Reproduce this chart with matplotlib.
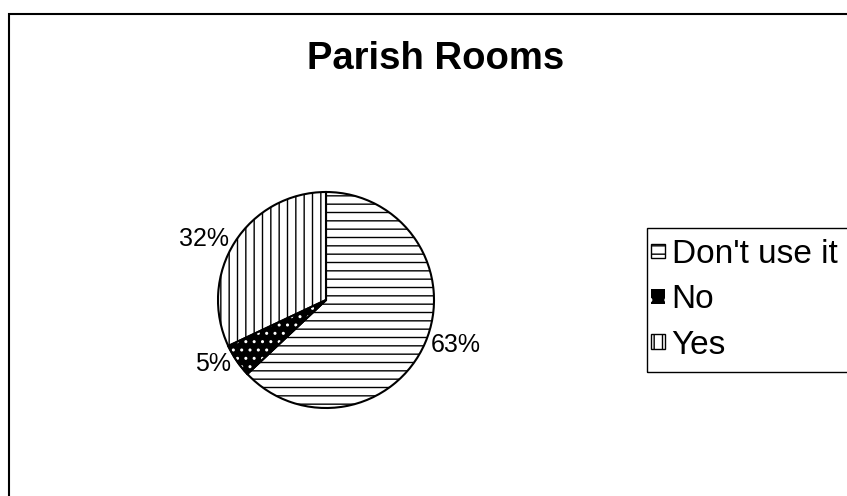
import numpy as np
import matplotlib
matplotlib.use("Agg")
import matplotlib.pyplot as plt
from matplotlib.patches import Rectangle, Wedge, Patch

plt.rcParams['font.family'] = ['Liberation Sans', 'DejaVu Sans']
plt.rcParams['hatch.linewidth'] = 1.0

categories = ["Don't use it", "No", "Yes"]
values = [63, 5, 32]
hatches = ['--', '..', '||']
faces = ['white', 'black', 'white']

W, H = 847, 496
fig = plt.figure(figsize=(W / 100, H / 100), dpi=100)

# outer chart frame (runs off the right and bottom)
fig.patches.append(Rectangle((9 / W, -0.1), 1.2, 1.1 - 14 / H, transform=fig.transFigure,
                             fill=False, edgecolor='black', linewidth=1.5))
# legend box, also cut off on the right
fig.patches.append(Rectangle((647 / W, 1 - 372 / H), 1.0, 144 / H, transform=fig.transFigure,
                             fill=False, edgecolor='black', linewidth=1.0))

fig.text(436 / W, 1 - 59 / H, 'Parish Rooms', ha='center', va='center',
         fontsize=27.5, fontweight='bold')

# pie axes: centre (326, 300) px, radius 108 px
cx, cy, r = 326, 300, 108
ax = fig.add_axes([(cx - r) / W, 1 - (cy + r) / H, 2 * r / W, 2 * r / H])

wedges, _ = ax.pie(values, startangle=90, counterclock=False, radius=1,
                   colors=faces, wedgeprops=dict(edgecolor='black', linewidth=1.5))
ax.set_xlim(-1, 1)
ax.set_ylim(-1, 1)
ax.axis('off')

for w, h, fc in zip(wedges, hatches, faces):
    if fc == 'black':
        # white dots on the black slice
        dots = Wedge(w.center, w.r, w.theta1, w.theta2, facecolor='none',
                     edgecolor='white', linewidth=0, hatch=h)
        ax.add_patch(dots)
        outline = Wedge(w.center, w.r, w.theta1, w.theta2, facecolor='none',
                        edgecolor='black', linewidth=1.5)
        ax.add_patch(outline)
    else:
        w.set_hatch(h)

# percentage labels just outside the rim
total = sum(values)
for w, v in zip(wedges, values):
    mid = np.deg2rad((w.theta1 + w.theta2) / 2)
    x, y = 1.06 * np.cos(mid), 1.06 * np.sin(mid)
    ax.text(x, y, f'{round(100 * v / total)}%', fontsize=18,
            ha='left' if x > 0 else 'right', va='center', clip_on=False)

handles = []
for lab, h, fc in zip(categories, hatches, faces):
    if fc == 'black':
        handles.append(Patch(facecolor='black', edgecolor='white', linewidth=0,
                             hatch='.', label=lab))
    else:
        handles.append(Patch(facecolor='white', edgecolor='black', hatch=h, label=lab))

leg = fig.legend(handles=handles, loc='upper left', bbox_to_anchor=(651 / W, 1 - 239 / H),
                 bbox_transform=fig.transFigure, borderaxespad=0, fontsize=24,
                 handlelength=0.42, handleheight=0.3, handletextpad=0.2,
                 labelspacing=0.43, borderpad=0, frameon=False)

fig.savefig('out.png', dpi=100)
